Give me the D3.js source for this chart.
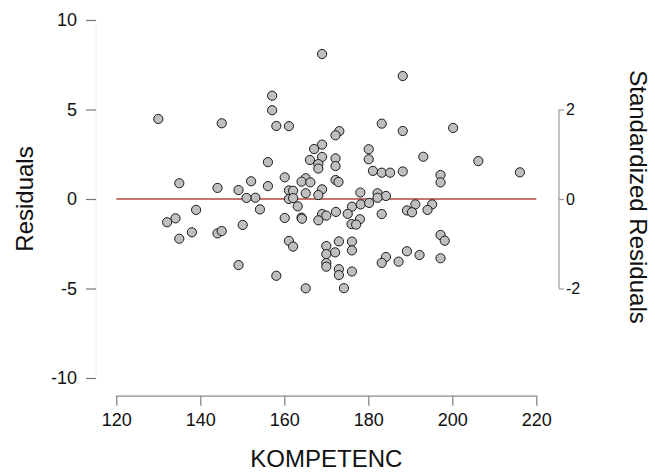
<!DOCTYPE html>
<html lang="en">
<head>
  <meta charset="utf-8">
  <script src="https://d3js.org/d3.v7.min.js"></script>
  <style>
    body { margin: 0; background: #fff; }
    svg { font-family: "Liberation Sans", Arial, sans-serif; }
    .dot { fill: #bfbfbf; stroke: #1a1a1a; stroke-width: 1; }
  </style>
</head>
<body>
  <script>
    // KOMPETENC values and residuals
    var kompetenc = [
      169.0, 188.2, 157.1, 157.1, 130.0, 145.1, 158.1, 161.1, 183.2, 200.2,
      188.2, 173.1, 172.2, 169.0, 167.1, 180.1, 169.0, 193.1, 172.2, 180.1,
      166.1, 206.2, 156.1, 168.1, 172.2, 168.1, 181.1, 183.2, 185.2, 188.2,
      216.1, 197.2, 160.1, 165.1, 172.2, 164.1, 152.1, 197.2, 166.2, 172.9,
      135.0, 156.1, 144.1, 169.0, 149.1, 161.1, 162.1, 178.1, 165.1, 182.2,
      168.1, 184.2, 153.1, 151.0, 182.2, 161.1, 162.1,
      163.2, 154.2, 139.0, 176.1, 178.2, 180.2, 191.2, 195.2, 194.1, 189.2,
      190.4, 172.3, 175.1, 169.0, 170.0, 183.2, 134.1, 132.1, 160.1, 164.1,
      164.2, 168.1, 178.0, 176.0, 177.1, 150.1, 138.0, 144.1, 145.1, 197.2,
      135.0, 198.2, 161.1, 162.1, 173.0, 176.1, 170.0, 176.1, 189.2, 172.1,
      170.0, 192.2, 184.2, 197.2, 187.2, 183.2, 170.0, 149.1, 170.0, 173.0,
      176.1, 173.0, 158.1, 165.1, 174.2
    ];

    var residuals = [
      8.10, 6.87, 5.77, 4.96, 4.47, 4.23, 4.08, 4.07, 4.21, 3.97,
      3.80, 3.79, 3.56, 3.04, 2.79, 2.78, 2.35, 2.36, 2.27, 2.22,
      2.18, 2.12, 2.06, 1.95, 1.84, 1.70, 1.57, 1.47, 1.47, 1.54,
      1.49, 1.34, 1.21, 1.16, 1.06, 0.97, 0.99, 0.93, 0.93, 0.95,
      0.88, 0.72, 0.62, 0.54, 0.50, 0.48, 0.46, 0.36, 0.32, 0.32,
      0.22, 0.17, 0.07, 0.06, 0.07, 0.00, 0.05,
      -0.41, -0.58, -0.61, -0.43, -0.30, -0.22, -0.30, -0.30, -0.61, -0.64,
      -0.74, -0.72, -0.83, -0.84, -0.93, -0.84, -1.08, -1.30, -1.06, -1.04,
      -1.10, -1.19, -1.13, -1.40, -1.43, -1.45, -1.86, -1.92, -1.79, -2.01,
      -2.22, -2.33, -2.34, -2.66, -2.37, -2.38, -2.63, -2.87, -2.92, -2.98,
      -3.08, -3.13, -3.24, -3.31, -3.50, -3.57, -3.58, -3.69, -3.78, -3.92,
      -4.05, -4.25, -4.29, -4.99, -4.98
    ];

    var xTicks = [120, 140, 160, 180, 200, 220];
    var yTicks = [-10, -5, 0, 5, 10];
    var stdTicks = [-2, 0, 2];
    var residualSD = 2.5;

    var width = 655, height = 473;

    // plain hyphen minus, like the original
    var plainFormat = d => String(d);

    var svg = d3.select("body").append("svg")
      .attr("width", width)
      .attr("height", height);

    var x = d3.scaleLinear().domain([120, 220]).range([116.3, 536.3]);
    var y = d3.scaleLinear().domain([-10, 10]).range([378, 20]);
    var yStd = d3.scaleLinear()
      .domain([-10 / residualSD, 10 / residualSD])
      .range([378, 20]);

    // left axis
    var yAxisG = svg.append("g")
      .attr("transform", "translate(96,0)")
      .call(d3.axisLeft(y).tickValues(yTicks).tickFormat(plainFormat).tickSize(10).tickPadding(9));
    yAxisG.select(".domain").attr("stroke", "#f0f0f0").attr("d", "M0," + y(10) + "V" + y(-10));
    yAxisG.selectAll(".tick line").attr("stroke", "#777").attr("stroke-width", 1.2);
    yAxisG.selectAll(".tick text")
      .attr("fill", "#111")
      .style("font-size", "18px")
      .style("font-family", "Liberation Sans, Arial, sans-serif");

    // bottom axis
    var xAxisG = svg.append("g")
      .attr("transform", "translate(0,395.7)")
      .call(d3.axisBottom(x).tickValues(xTicks).tickSize(10).tickSizeOuter(0).tickPadding(8));
    xAxisG.select(".domain").attr("stroke", "#888").attr("stroke-width", 1.3);
    xAxisG.selectAll(".tick line").attr("stroke", "#888").attr("stroke-width", 1.3);
    xAxisG.selectAll(".tick text")
      .attr("fill", "#111")
      .style("font-size", "18px")
      .style("font-family", "Liberation Sans, Arial, sans-serif");

    // right axis, standardized residuals, drawn only over the tick range
    var rAxisG = svg.append("g")
      .attr("transform", "translate(559,0)")
      .call(d3.axisRight(yStd).tickValues(stdTicks).tickFormat(plainFormat).tickSize(5).tickPadding(2));
    rAxisG.select(".domain")
      .attr("stroke", "#999")
      .attr("stroke-width", 1.2)
      .attr("d", "M0," + yStd(2) + "V" + yStd(-2));
    rAxisG.selectAll(".tick line").attr("stroke", "#999").attr("stroke-width", 1.2);
    rAxisG.selectAll(".tick text")
      .attr("fill", "#111")
      .style("font-size", "16px")
      .style("font-family", "Liberation Sans, Arial, sans-serif");

    // zero line
    svg.append("line")
      .attr("x1", x(120))
      .attr("x2", x(220))
      .attr("y1", y(0))
      .attr("y2", y(0))
      .attr("stroke", "#b0473f")
      .attr("stroke-width", 1.5);

    svg.append("g")
      .selectAll("circle")
      .data(kompetenc)
      .enter().append("circle")
        .attr("class", "dot")
        .attr("cx", d => x(d))
        .attr("cy", (d, i) => y(residuals[i]))
        .attr("r", 4.6);

    // axis titles
    svg.append("text")
      .attr("x", x(170))
      .attr("y", 466.5)
      .attr("text-anchor", "middle")
      .style("font-size", "24px")
      .attr("fill", "#111")
      .text("KOMPETENC");

    svg.append("text")
      .attr("transform", "translate(33," + y(0) + ") rotate(-90)")
      .attr("text-anchor", "middle")
      .style("font-size", "24px")
      .attr("fill", "#111")
      .text("Residuals");

    svg.append("text")
      .attr("transform", "translate(630,197) rotate(90)")
      .attr("text-anchor", "middle")
      .style("font-size", "24px")
      .attr("fill", "#111")
      .text("Standardized Residuals");
  </script>
</body>
</html>
